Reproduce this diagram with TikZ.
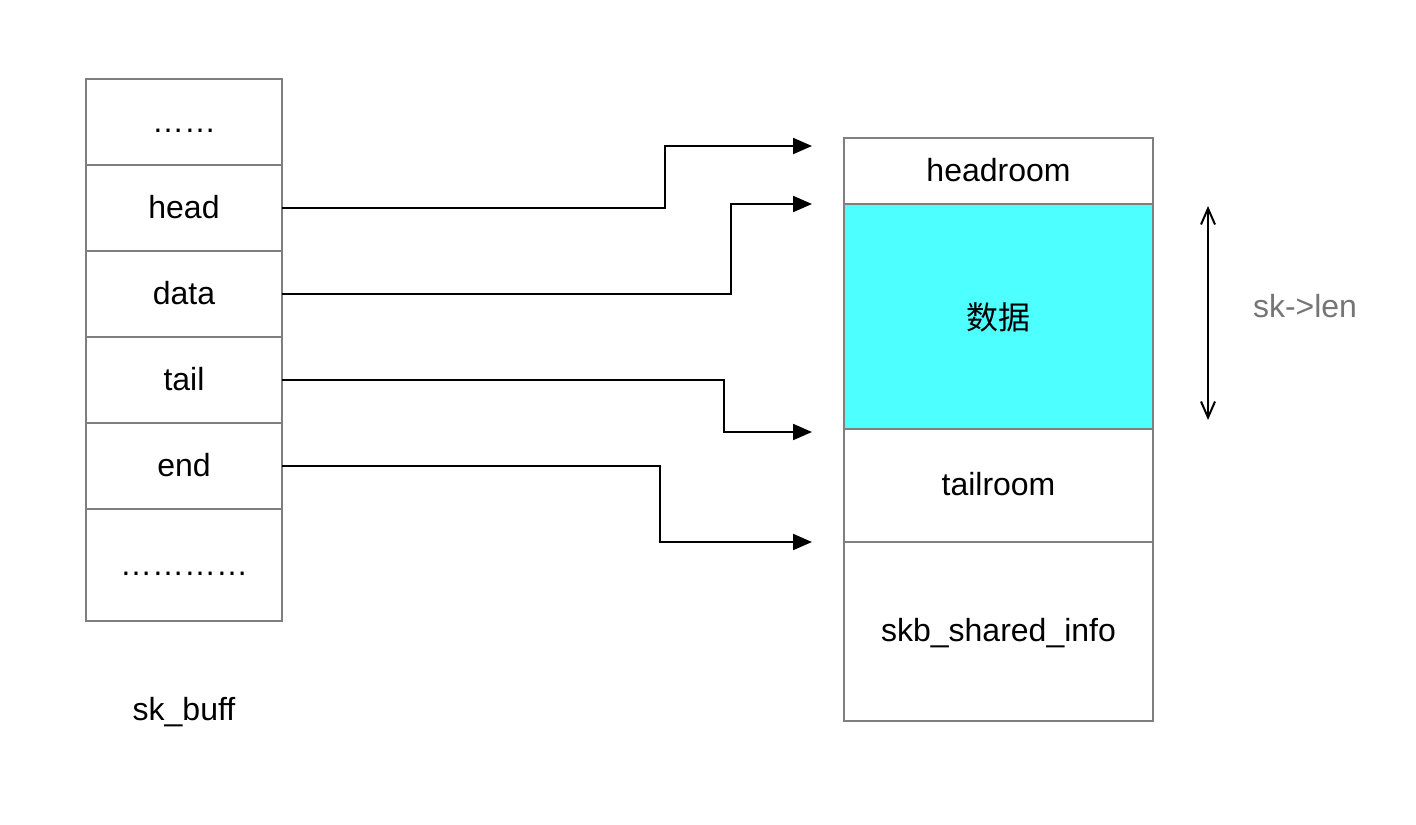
\documentclass[tikz,border=0pt]{standalone}
\usepackage{fontspec}
\setmainfont{Liberation Sans}
\newfontfamily\cjk{Noto Sans CJK SC}
\usetikzlibrary{arrows.meta}
\definecolor{boxgray}{HTML}{7F7F7F}
\definecolor{datacyan}{HTML}{4DFFFF}
\definecolor{lengray}{HTML}{757575}
\tikzset{
  txt/.style={font=\fontsize{16}{19}\selectfont, text height=10pt, text depth=0pt},
  cell/.style={txt, draw=boxgray, line width=1pt, minimum width=98pt, inner sep=0pt, outer sep=0pt},
  rcell/.style={txt, draw=boxgray, line width=1pt, minimum width=154.5pt, inner sep=0pt, outer sep=0pt},
  arr/.style={line width=1pt, -{Triangle[length=9.5pt,width=8pt]}},
  dbl/.style={line width=1pt, {Straight Barb[length=8pt,width=7pt]}-{Straight Barb[length=8pt,width=7pt]}},
  lbl/.style={txt, inner sep=0pt}
}
\begin{document}
\begin{tikzpicture}[x=0.5pt,y=-0.5pt]
\useasboundingbox (0,0) rectangle (1416,824);
% left sk_buff cells
\node[cell, minimum height=43pt] (c0) at (184,122) {……};
\node[cell, minimum height=43pt] (head) at (184,208) {head};
\node[cell, minimum height=43pt] (data) at (184,294) {data};
\node[cell, minimum height=43pt] (tail) at (184,380) {tail};
\node[cell, minimum height=43pt] (end) at (184,466) {end};
\node[cell, minimum height=56pt] (c5) at (184,565) {…………};
\node[lbl] (skbuff) at (184,710) {sk\_buff};
% right buffer
\node[rcell, minimum height=33pt] (headroom) at (998.5,171) {headroom};
\node[rcell, minimum height=112.5pt, fill=datacyan, text height=12.5pt] (payload) at (998.5,316.5) {\cjk 数据};
\node[rcell, minimum height=56.5pt] (tailroom) at (998.5,485.5) {tailroom};
\node[rcell, minimum height=89.5pt] (shinfo) at (998.5,631.5) {skb\_shared\_info};
% arrow targets
\coordinate (ha) at (812,146);
\coordinate (da) at (812,204);
\coordinate (ta) at (812,432);
\coordinate (ea) at (812,542);
\draw[arr] (head.east) -- ++(383,0) |- (ha);
\draw[arr] (data.east) -- ++(449,0) |- (da);
\draw[arr] (tail.east) -- ++(442,0) |- (ta);
\draw[arr] (end.east) -- ++(378,0) |- (ea);
% length arrow
\coordinate (lt) at (1208,206);
\coordinate (lb) at (1208,420);
\draw[dbl] (lt) -- (lb);
\node[lbl, text=lengray] (len) at (1305,307) {sk->len};
\end{tikzpicture}
\end{document}
